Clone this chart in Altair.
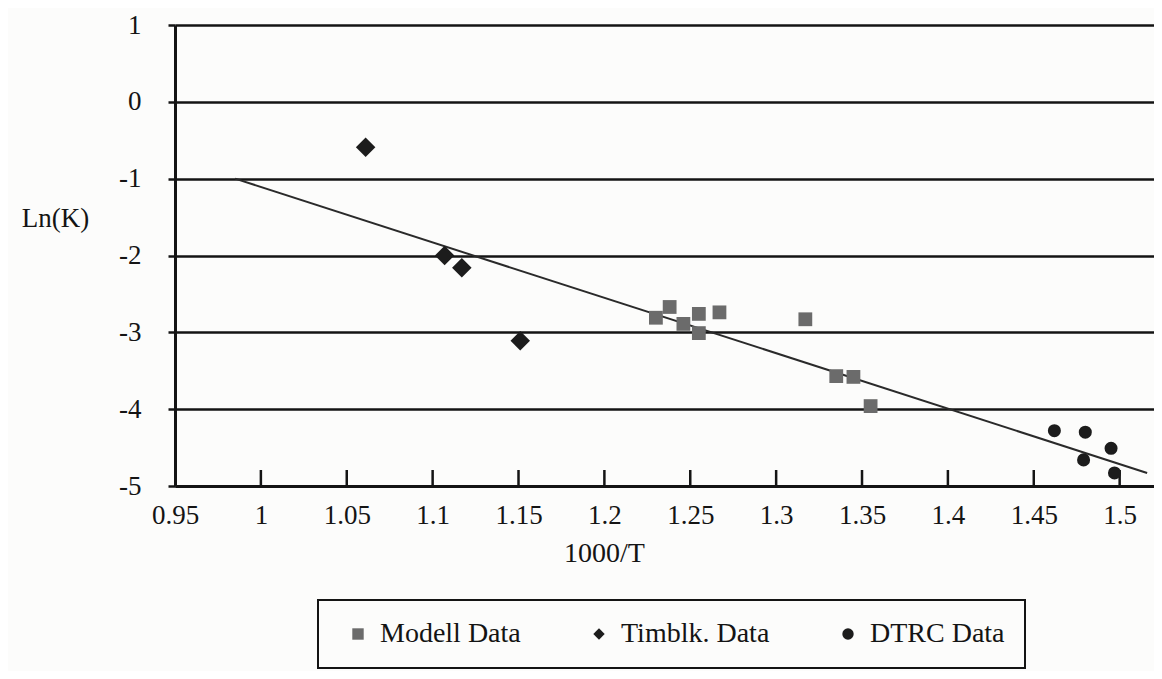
import altair as alt
import pandas as pd

# ---- data ----
series = ["Modell Data", "Timblk. Data", "DTRC Data"]

modell_x = [1.230, 1.238, 1.246, 1.255, 1.255, 1.267, 1.317, 1.335, 1.345, 1.355]
modell_y = [-2.81, -2.67, -2.89, -2.76, -3.01, -2.74, -2.83, -3.57, -3.58, -3.96]

timblk_x = [1.061, 1.107, 1.117, 1.151]
timblk_y = [-0.59, -2.00, -2.16, -3.11]

dtrc_x = [1.462, 1.480, 1.495, 1.479, 1.497]
dtrc_y = [-4.28, -4.30, -4.51, -4.66, -4.83]

trend_x = [0.985, 1.516]
trend_y = [-1.00, -4.83]

x_ticks = [0.95, 1.0, 1.05, 1.1, 1.15, 1.2, 1.25, 1.3, 1.35, 1.4, 1.45, 1.5]
y_ticks = [-5, -4, -3, -2, -1, 0, 1]

# ---- tables ----
pts = pd.DataFrame({
    "x": modell_x + timblk_x + dtrc_x,
    "y": modell_y + timblk_y + dtrc_y,
    "series": [series[0]] * len(modell_x) + [series[1]] * len(timblk_x) + [series[2]] * len(dtrc_x),
})
trend = pd.DataFrame({"x": trend_x, "y": trend_y})
ticks = pd.DataFrame({"x": x_ticks[1:]})

FONT = "Liberation Serif, Times New Roman, Times, serif"
INK = "#141414"
W, H = 979, 461

x_scale = alt.Scale(domain=[0.95, 1.52], nice=False, zero=False)
y_scale = alt.Scale(domain=[-5, 1], nice=False, zero=False)

x_axis = alt.Axis(
    values=x_ticks, title="1000/T", grid=False, ticks=False,
    labelExpr="'' + round(datum.value * 100) / 100",
    labelPadding=16, labelFont=FONT, labelFontSize=27, labelColor=INK,
    labelFlush=False, labelOverlap=False,
    domainColor=INK, domainWidth=3,
    titleFont=FONT, titleFontSize=28, titleFontWeight="normal", titleColor=INK,
    titleX=429, titleY=67, titleAlign="center", titleBaseline="middle",
)
y_axis = alt.Axis(
    values=y_ticks, title="Ln(K)", grid=True, gridColor=INK, gridWidth=2.5, gridOpacity=1,
    tickSize=7, tickWidth=2.5, tickColor=INK,
    labelExpr="datum.value < 0 ? '-' + abs(datum.value) : '' + datum.value",
    labelPadding=27, labelFont=FONT, labelFontSize=27, labelColor=INK,
    labelFlush=False, labelOverlap=False,
    domainColor=INK, domainWidth=3,
    titleFont=FONT, titleFontSize=27, titleFontWeight="normal", titleColor=INK,
    titleAngle=0, titleX=-120, titleY=193, titleAlign="center", titleBaseline="middle",
)

X = alt.X("x:Q", scale=x_scale, axis=x_axis)
Y = alt.Y("y:Q", scale=y_scale, axis=y_axis)

legend = alt.Legend(
    orient="none", legendX=143, legendY=575, direction="horizontal", title=None,
    strokeColor=INK, padding=20, columnPadding=58, symbolOffset=6,
    labelFont=FONT, labelFontSize=28, labelColor=INK, labelOffset=8,
    symbolSize=130, symbolStrokeWidth=0,
)

color_scale = alt.Scale(domain=series, range=["#6b6b6b", "#1c1c1c", "#1c1c1c"])
shape_scale = alt.Scale(domain=series, range=["square", "diamond", "circle"])

tick_layer = alt.Chart(ticks).mark_rule(color=INK, strokeWidth=2.5).encode(
    x=X, y=alt.value(H), y2=alt.value(H - 16)
)

trend_layer = alt.Chart(trend).mark_line(color="#2a2a2a", strokeWidth=2).encode(x=X, y=Y)


def series_layer(name, size):
    return (
        alt.Chart(pts)
        .transform_filter(alt.datum.series == name)
        .mark_point(filled=True, opacity=1, size=size)
        .encode(
            x=X, y=Y,
            color=alt.Color("series:N", scale=color_scale, legend=legend),
            shape=alt.Shape("series:N", scale=shape_scale, legend=legend),
        )
    )


chart = (
    alt.layer(
        tick_layer, trend_layer,
        series_layer(series[0], 190),
        series_layer(series[1], 380),
        series_layer(series[2], 170),
    )
    .properties(
        width=W, height=H,
        autosize=alt.AutoSizeParams(type="none"),
        padding={"left": 167, "top": 17, "right": 0, "bottom": 185},
        background="#fcfcfb",
    )
    .configure_view(stroke=None)
    .configure_legend(strokeWidth=2)
)

chart.save("out.html", embed_options={"renderer": "svg", "actions": False})
